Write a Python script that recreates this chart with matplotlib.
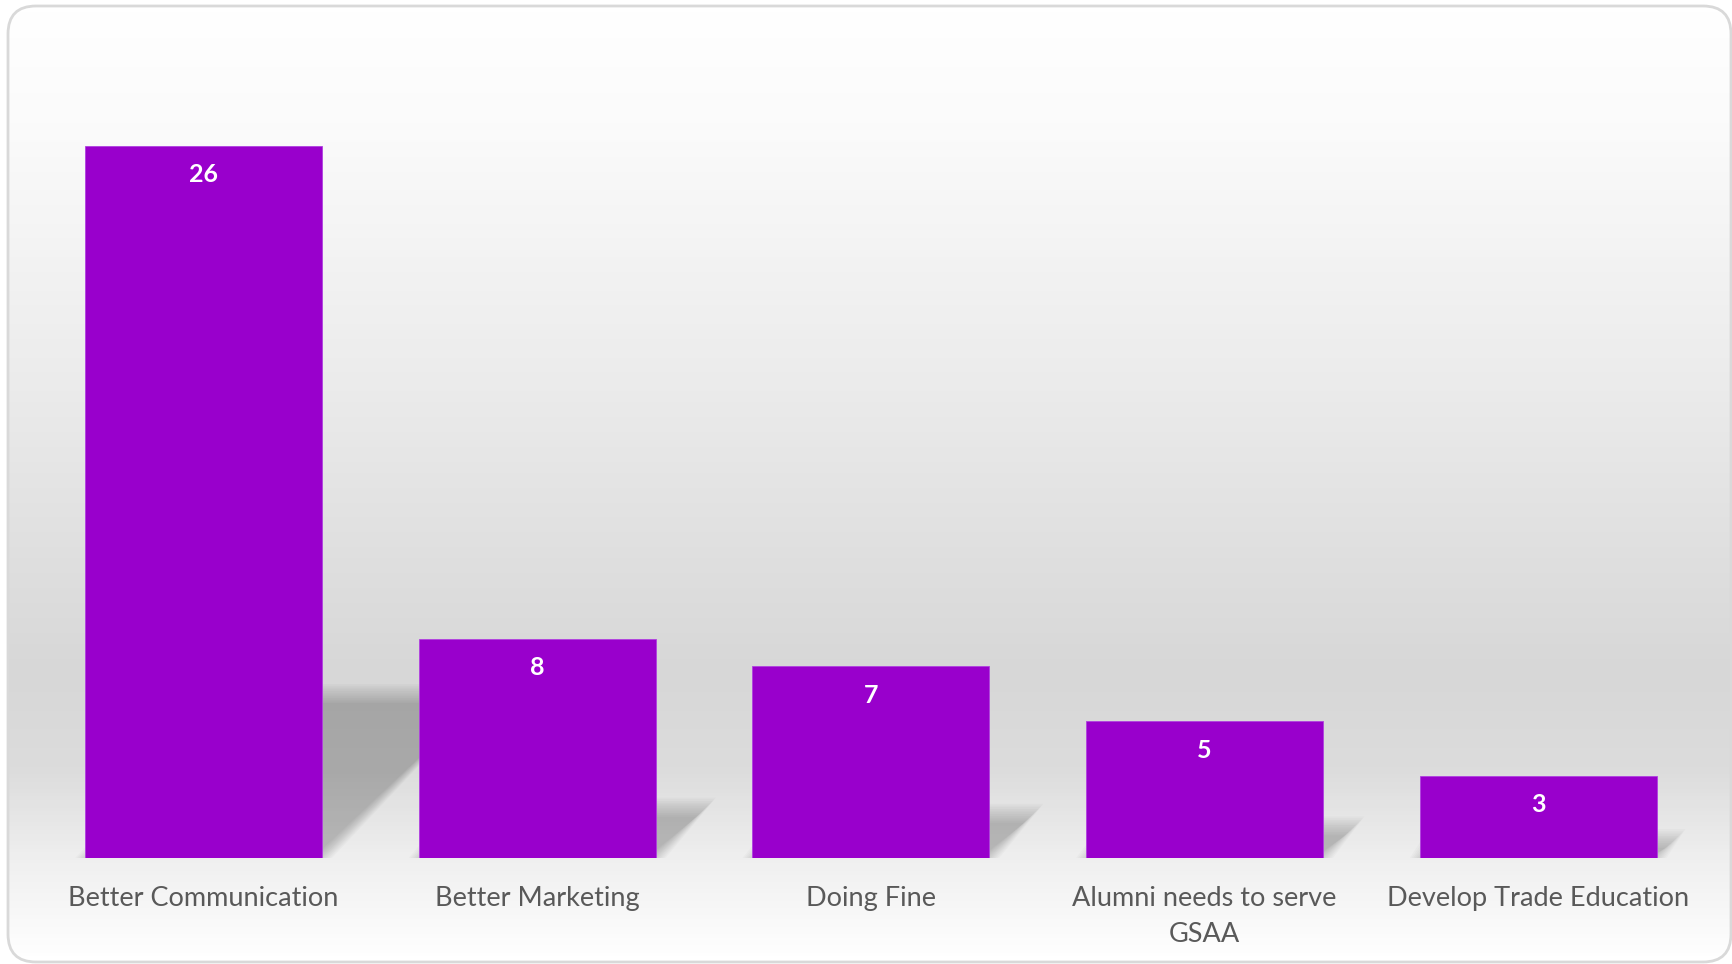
import numpy as np
import matplotlib
matplotlib.use('Agg')
import matplotlib.pyplot as plt
from matplotlib.patches import FancyBboxPatch, Polygon
from matplotlib.colors import LinearSegmentedColormap

# data
categories = ['Better Communication', 'Better Marketing', 'Doing Fine',
              'Alumni needs to serve\nGSAA', 'Develop Trade Education']
counts = [26, 8, 7, 5, 3]

plt.rcParams['font.family'] = ['Lato', 'DejaVu Sans']

W, H, DPI = 1732, 964, 100
fig = plt.figure(figsize=(W / DPI, H / DPI), dpi=DPI)
fig.patch.set_facecolor('white')

# background panel: rounded box with vertical grey gradient
bg = fig.add_axes([0, 0, 1, 1])
bg.set_xlim(0, W)
bg.set_ylim(H, 0)
bg.axis('off')
grad_cmap = LinearSegmentedColormap.from_list('bg', [
    (0.0, '#ffffff'), (0.12, '#fbfbfb'), (0.40, '#ebebeb'),
    (0.70, '#d7d7d7'), (0.80, '#dcdcdc'), (0.90, '#f0f0f0'), (1.0, '#ffffff')])
grad = np.linspace(0, 1, 256).reshape(-1, 1)
img = bg.imshow(grad, cmap=grad_cmap, aspect='auto', extent=(7, W + 2, 962, 6),
                interpolation='bilinear')
box = FancyBboxPatch((8, 6), W - 9, 956, boxstyle='round,pad=0,rounding_size=28',
                     facecolor='none', edgecolor='#d9d9d9', linewidth=2)
bg.add_patch(box)
img.set_clip_path(box)

ax = fig.add_axes([0.0212, 0.110, 0.9632, 0.7959])
ax.patch.set_alpha(0)
ax.set_xlim(-0.5, len(counts) - 0.5)
ax.set_ylim(0, 28)

x = np.arange(len(counts))
bar_w = 0.71
purple = '#9900CC'

# perspective shadows, soft edges from stacked layers
px_x = W * 0.9632 / len(counts)     # pixels per x unit
px_y = H * 0.7959 / 28              # pixels per y unit
k = 0.23
for xi, v in zip(x, counts):
    h = k * v
    dx = 1.0 * h * px_y / px_x
    x0, x1 = xi - bar_w / 2, xi + bar_w / 2
    for e in np.linspace(-9, 10, 12):
        ex, ey = e / px_x, e / px_y
        poly = Polygon([(x0 - ex, 0), (x1 + ex, 0), (x1 + dx + ex, h + ey),
                        (x0 + dx - ex, h + ey)], closed=True,
                       facecolor='black', edgecolor='none', alpha=0.019, zorder=1)
        ax.add_patch(poly)

bars = ax.bar(x, counts, width=bar_w, color=purple, edgecolor='#b040e0',
              linewidth=0.6, zorder=3)

for xi, v in zip(x, counts):
    ax.annotate(str(v), (xi, v), xytext=(0, -21), textcoords='offset points',
                ha='center', va='center', color='white', fontsize=18,
                fontweight='bold', zorder=4)

ax.set_xticks(x)
ax.set_xticklabels(categories, color='#595959', fontsize=19.5, linespacing=1.55)
ax.tick_params(axis='x', length=0, pad=20)
ax.set_yticks([])
for s in ax.spines.values():
    s.set_visible(False)

fig.savefig('out.png', dpi=DPI)
